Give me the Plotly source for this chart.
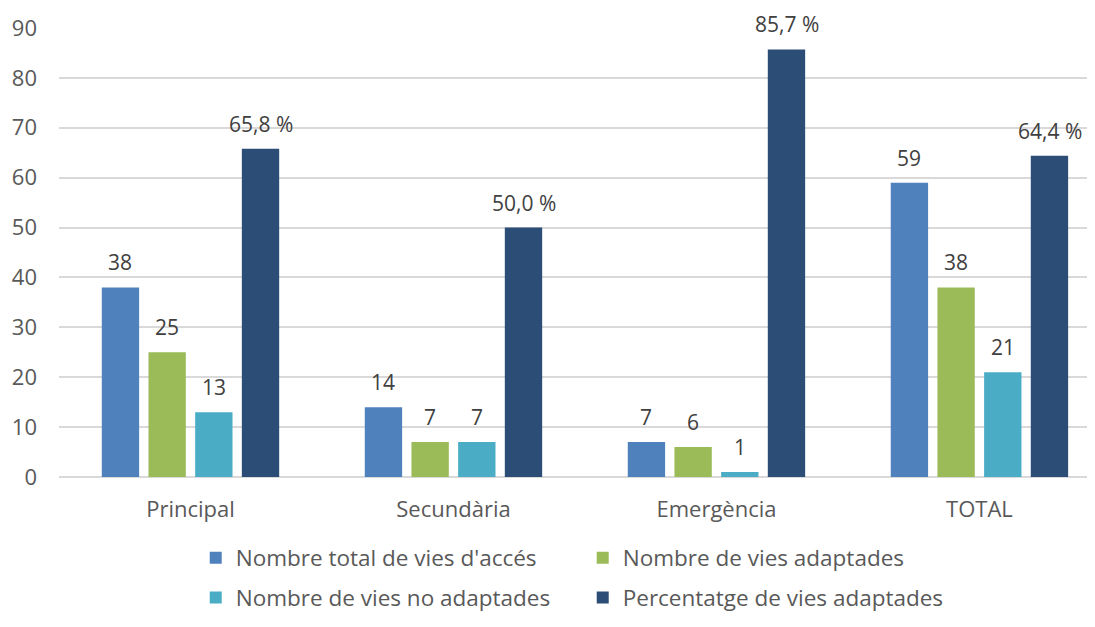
import plotly.graph_objects as go

categories = ["Principal", "Secundària", "Emergència", "TOTAL"]
series_names = ["Nombre total de vies d'accés", "Nombre de vies adaptades",
                "Nombre de vies no adaptades", "Percentatge de vies adaptades"]
total_vies = [38, 14, 7, 59]
vies_adaptades = [25, 7, 6, 38]
vies_no_adaptades = [13, 7, 1, 21]
pct_adaptades = [65.8, 50.0, 85.7, 64.4]

colors = ["#4f81bd", "#9bbb59", "#4bacc6", "#2c4d75"]
values = [total_vies, vies_adaptades, vies_no_adaptades, pct_adaptades]
labels = [
    [str(v) for v in total_vies],
    [str(v) for v in vies_adaptades],
    [str(v) for v in vies_no_adaptades],
    [f"{v:.1f} %".replace(".", ",") for v in pct_adaptades],
]
legend_ids = ["legend", "legend", "legend2", "legend2"]

FONT = "'Open Sans', sans-serif"
slot_px = 47  # pixel distance between neighbouring bars in a group

fig = go.Figure()
for name, vals, col, lg in zip(series_names, values, colors, legend_ids):
    fig.add_trace(go.Bar(x=categories, y=vals, name=name, marker_color=col,
                         marker_line_width=0, legend=lg))

# data labels as annotations, lifted a little above each bar
for i, (vals, txts) in enumerate(zip(values, labels)):
    for cat, v, t in zip(categories, vals, txts):
        fig.add_annotation(x=cat, y=v, text=t, showarrow=False,
                           xshift=(i - 1.5) * slot_px, yshift=9,
                           yanchor="bottom",
                           font=dict(family=FONT, size=21, color="#404040"))

legend_style = dict(orientation="h", x=0.133, xanchor="left", yanchor="middle",
                    yref="container",
                    entrywidth=342, entrywidthmode="pixels", itemwidth=30,
                    font=dict(family=FONT, size=22.5, color="#595959"),
                    bgcolor="rgba(0,0,0,0)")

fig.update_layout(
    width=1079, height=611,
    margin=dict(l=51, r=0, t=20, b=142),
    paper_bgcolor="white", plot_bgcolor="white",
    barmode="group", bargap=0.29, bargroupgap=0.2,
    font=dict(family=FONT, size=22, color="#595959"),
    legend=dict(legend_style, y=0.0998),
    legend2=dict(legend_style, y=0.0344),
)
fig.update_xaxes(showgrid=False, showline=False, ticks="",
                 range=[-0.5, 3.409], ticklabelstandoff=17,
                 tickfont=dict(size=22))
fig.update_yaxes(range=[0, 90], dtick=10, showgrid=True, gridcolor="#d9d9d9",
                 gridwidth=1.5, zeroline=True, zerolinecolor="#d9d9d9",
                 zerolinewidth=1.5, showline=False, ticks="",
                 ticklabelstandoff=21, tickfont=dict(size=22))

fig.write_html("out.html")
